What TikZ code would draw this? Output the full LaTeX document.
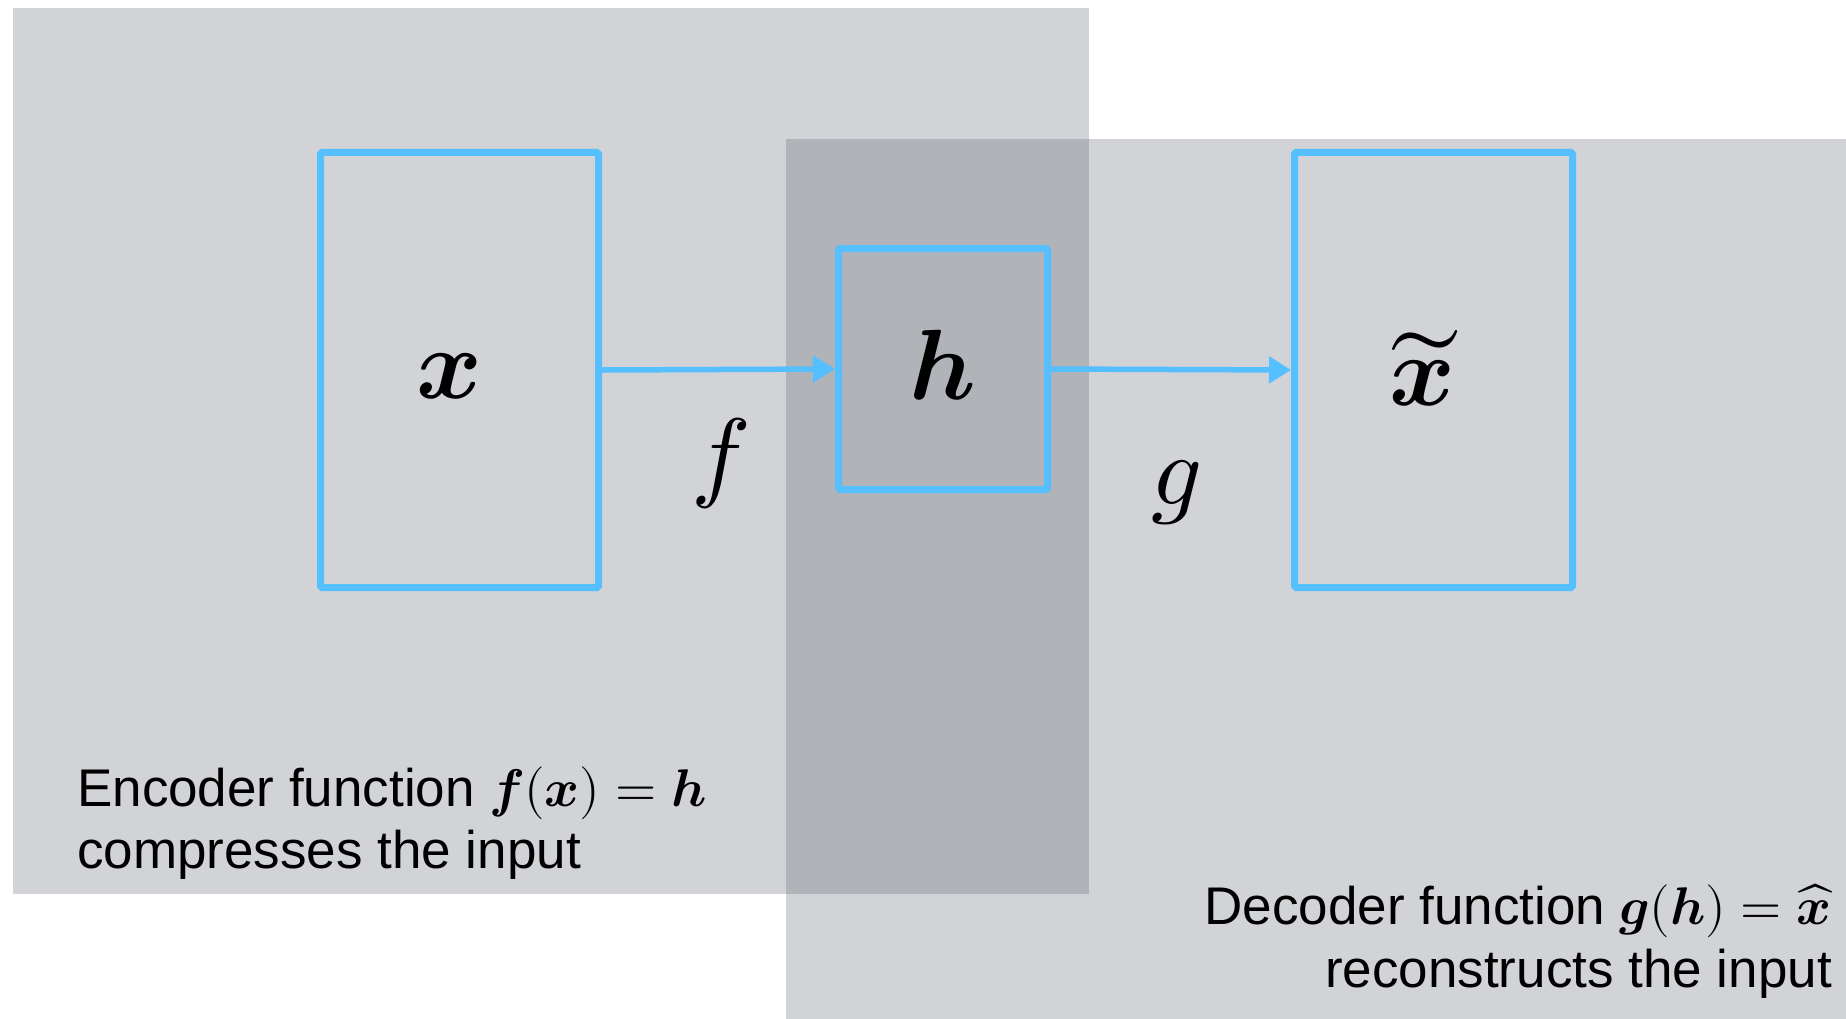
\documentclass[tikz,border=0pt]{standalone}
\usepackage{fontspec}
\usepackage{unicode-math}
\setmainfont{Liberation Sans}
\usetikzlibrary{arrows.meta}
\definecolor{lightbg}{RGB}{209,211,214}
\definecolor{darkbg}{RGB}{176,179,184}
\definecolor{boxblue}{RGB}{85,191,255}
\tikzset{
  layerbox/.style={draw=boxblue, line width=7pt, rounded corners=1.5pt, inner sep=0pt},
  boxlabel/.style={inner sep=0pt, font=\fontsize{100}{110}\selectfont},
  flow/.style={draw=boxblue, line width=5.5pt, -{Triangle[length=22pt,width=26pt]}},
  funlabel/.style={inner sep=0pt, font=\fontsize{100}{110}\selectfont},
  caption/.style={inner sep=0pt, font=\fontsize{53}{60}\selectfont}
}
\begin{document}
\begin{tikzpicture}[x=1pt,y=-1pt]
\useasboundingbox (0,0) rectangle (1846,1019);
\fill[white] (0,0) rectangle (1846,1019);
\fill[lightbg] (13,8) rectangle (1089,894);
\fill[lightbg] (786,139) rectangle (1846,1019);
\fill[darkbg] (786,139) rectangle (1089,894);

\node[layerbox, minimum width=278pt, minimum height=435pt] (xin) at (459.5,370) {};
\node[layerbox, minimum width=209pt, minimum height=241pt] (hcode) at (943,369) {};
\node[layerbox, minimum width=278pt, minimum height=435pt] (xout) at (1433.5,370) {};

\node[boxlabel] (xlab) at ([xshift=-10pt,yshift=-6pt]xin.center) {$\symbfit{x}$};
\node[boxlabel] (hlab) at ([yshift=4pt]hcode.center) {$\symbfit{h}$};
\node[boxlabel] (xtlab) at ([xshift=-11pt,yshift=2pt]xout.center) {$\widetilde{\symbfit{x}}$};

\draw[flow] (xin.east) -- (hcode.west);
\draw[flow] (hcode.east) -- (xout.west);

\node[funlabel] (flab) at (720,463) {$f$};
\node[funlabel] (glab) at (1177,493) {$g$};

\node[caption, anchor=base west] (enc1) at (77,806) {Encoder function $\symbfit{f}(\symbfit{x})=\symbfit{h}$};
\node[caption, anchor=base west] (enc2) at (77,868) {compresses the input};
\node[caption, anchor=base east] (dec1) at (1832,924) {Decoder function $\symbfit{g}(\symbfit{h})=\widehat{\symbfit{x}}$};
\node[caption, anchor=base east] (dec2) at (1832,987) {reconstructs the input};
\end{tikzpicture}
\end{document}
